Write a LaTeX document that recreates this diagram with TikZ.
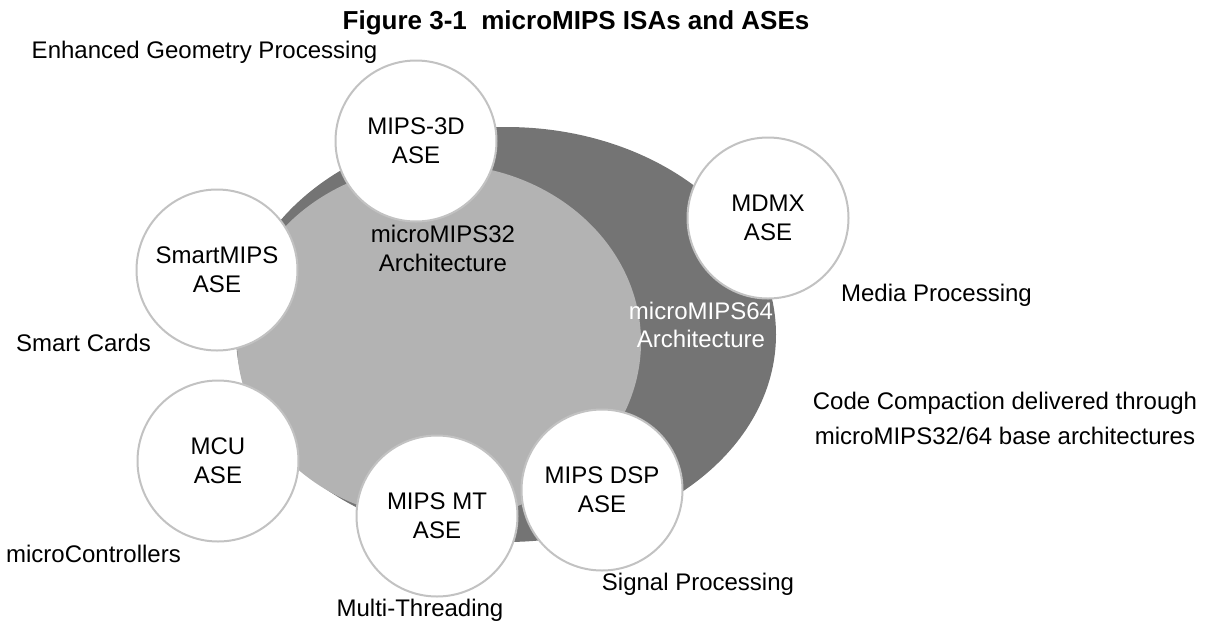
\documentclass[tikz,border=0pt]{standalone}
\usepackage{fontspec}
\setmainfont{Liberation Sans}

\definecolor{ringgray}{RGB}{194,194,194}
\definecolor{archdark}{RGB}{116,116,116}
\definecolor{archlight}{RGB}{179,179,179}

\tikzset{
  ase/.style={circle, draw=ringgray, line width=2pt, fill=white,
    minimum size=161pt, inner sep=0pt, align=center,
    font=\fontsize{24}{29}\selectfont},
  lbl/.style={inner sep=0pt, align=center, text height=17pt, text depth=0pt,
    font=\fontsize{24}{29}\selectfont}
}

\begin{document}
\begin{tikzpicture}[x=1pt,y=-1pt]
\useasboundingbox (0,0) rectangle (1205,622);

% base architectures
\fill[archdark] (506,334.5) ellipse [x radius=270pt, y radius=207.5pt];
\fill[archlight] (439,342) ellipse [x radius=202pt, y radius=178pt];
\node[lbl] (arch32) at (443,263) {microMIPS32\\Architecture};
\node[lbl, text=white, font=\fontsize{24}{28}\selectfont] (arch64) at (701,339) {microMIPS64\\Architecture};

% ASE circles
\node[ase] (mips3d) at (416,141) {MIPS-3D\\ASE};
\node[ase] (mdmx) at (768,218) {MDMX\\ASE};
\node[ase] (smart) at (217,270) {SmartMIPS\\ASE};
\node[ase] (mcu) at (218,461) {MCU\\ASE};
\node[ase] (mt) at (437,516) {MIPS MT\\ASE};
\node[ase] (dsp) at (602,490) {MIPS DSP\\ASE};

% labels
\node[inner sep=0pt, font=\fontsize{26}{30}\selectfont\bfseries] (title) at (576,23) {Figure 3-1\ \ microMIPS ISAs and ASEs};
\node[lbl] (geom) at (204.5,50) {Enhanced Geometry Processing};
\node[lbl] (media) at (936.5,293) {Media Processing};
\node[lbl] (cards) at (83.5,343) {Smart Cards};
\node[lbl] (ctrl) at (93.5,554) {microControllers};
\node[lbl] (thread) at (420,608) {Multi-Threading};
\node[lbl] (signal) at (698,582) {Signal Processing};
\node[lbl, font=\fontsize{24}{35}\selectfont] (compact) at (1005,435.5) {Code Compaction delivered through\\microMIPS32/64 base architectures};
\end{tikzpicture}
\end{document}
